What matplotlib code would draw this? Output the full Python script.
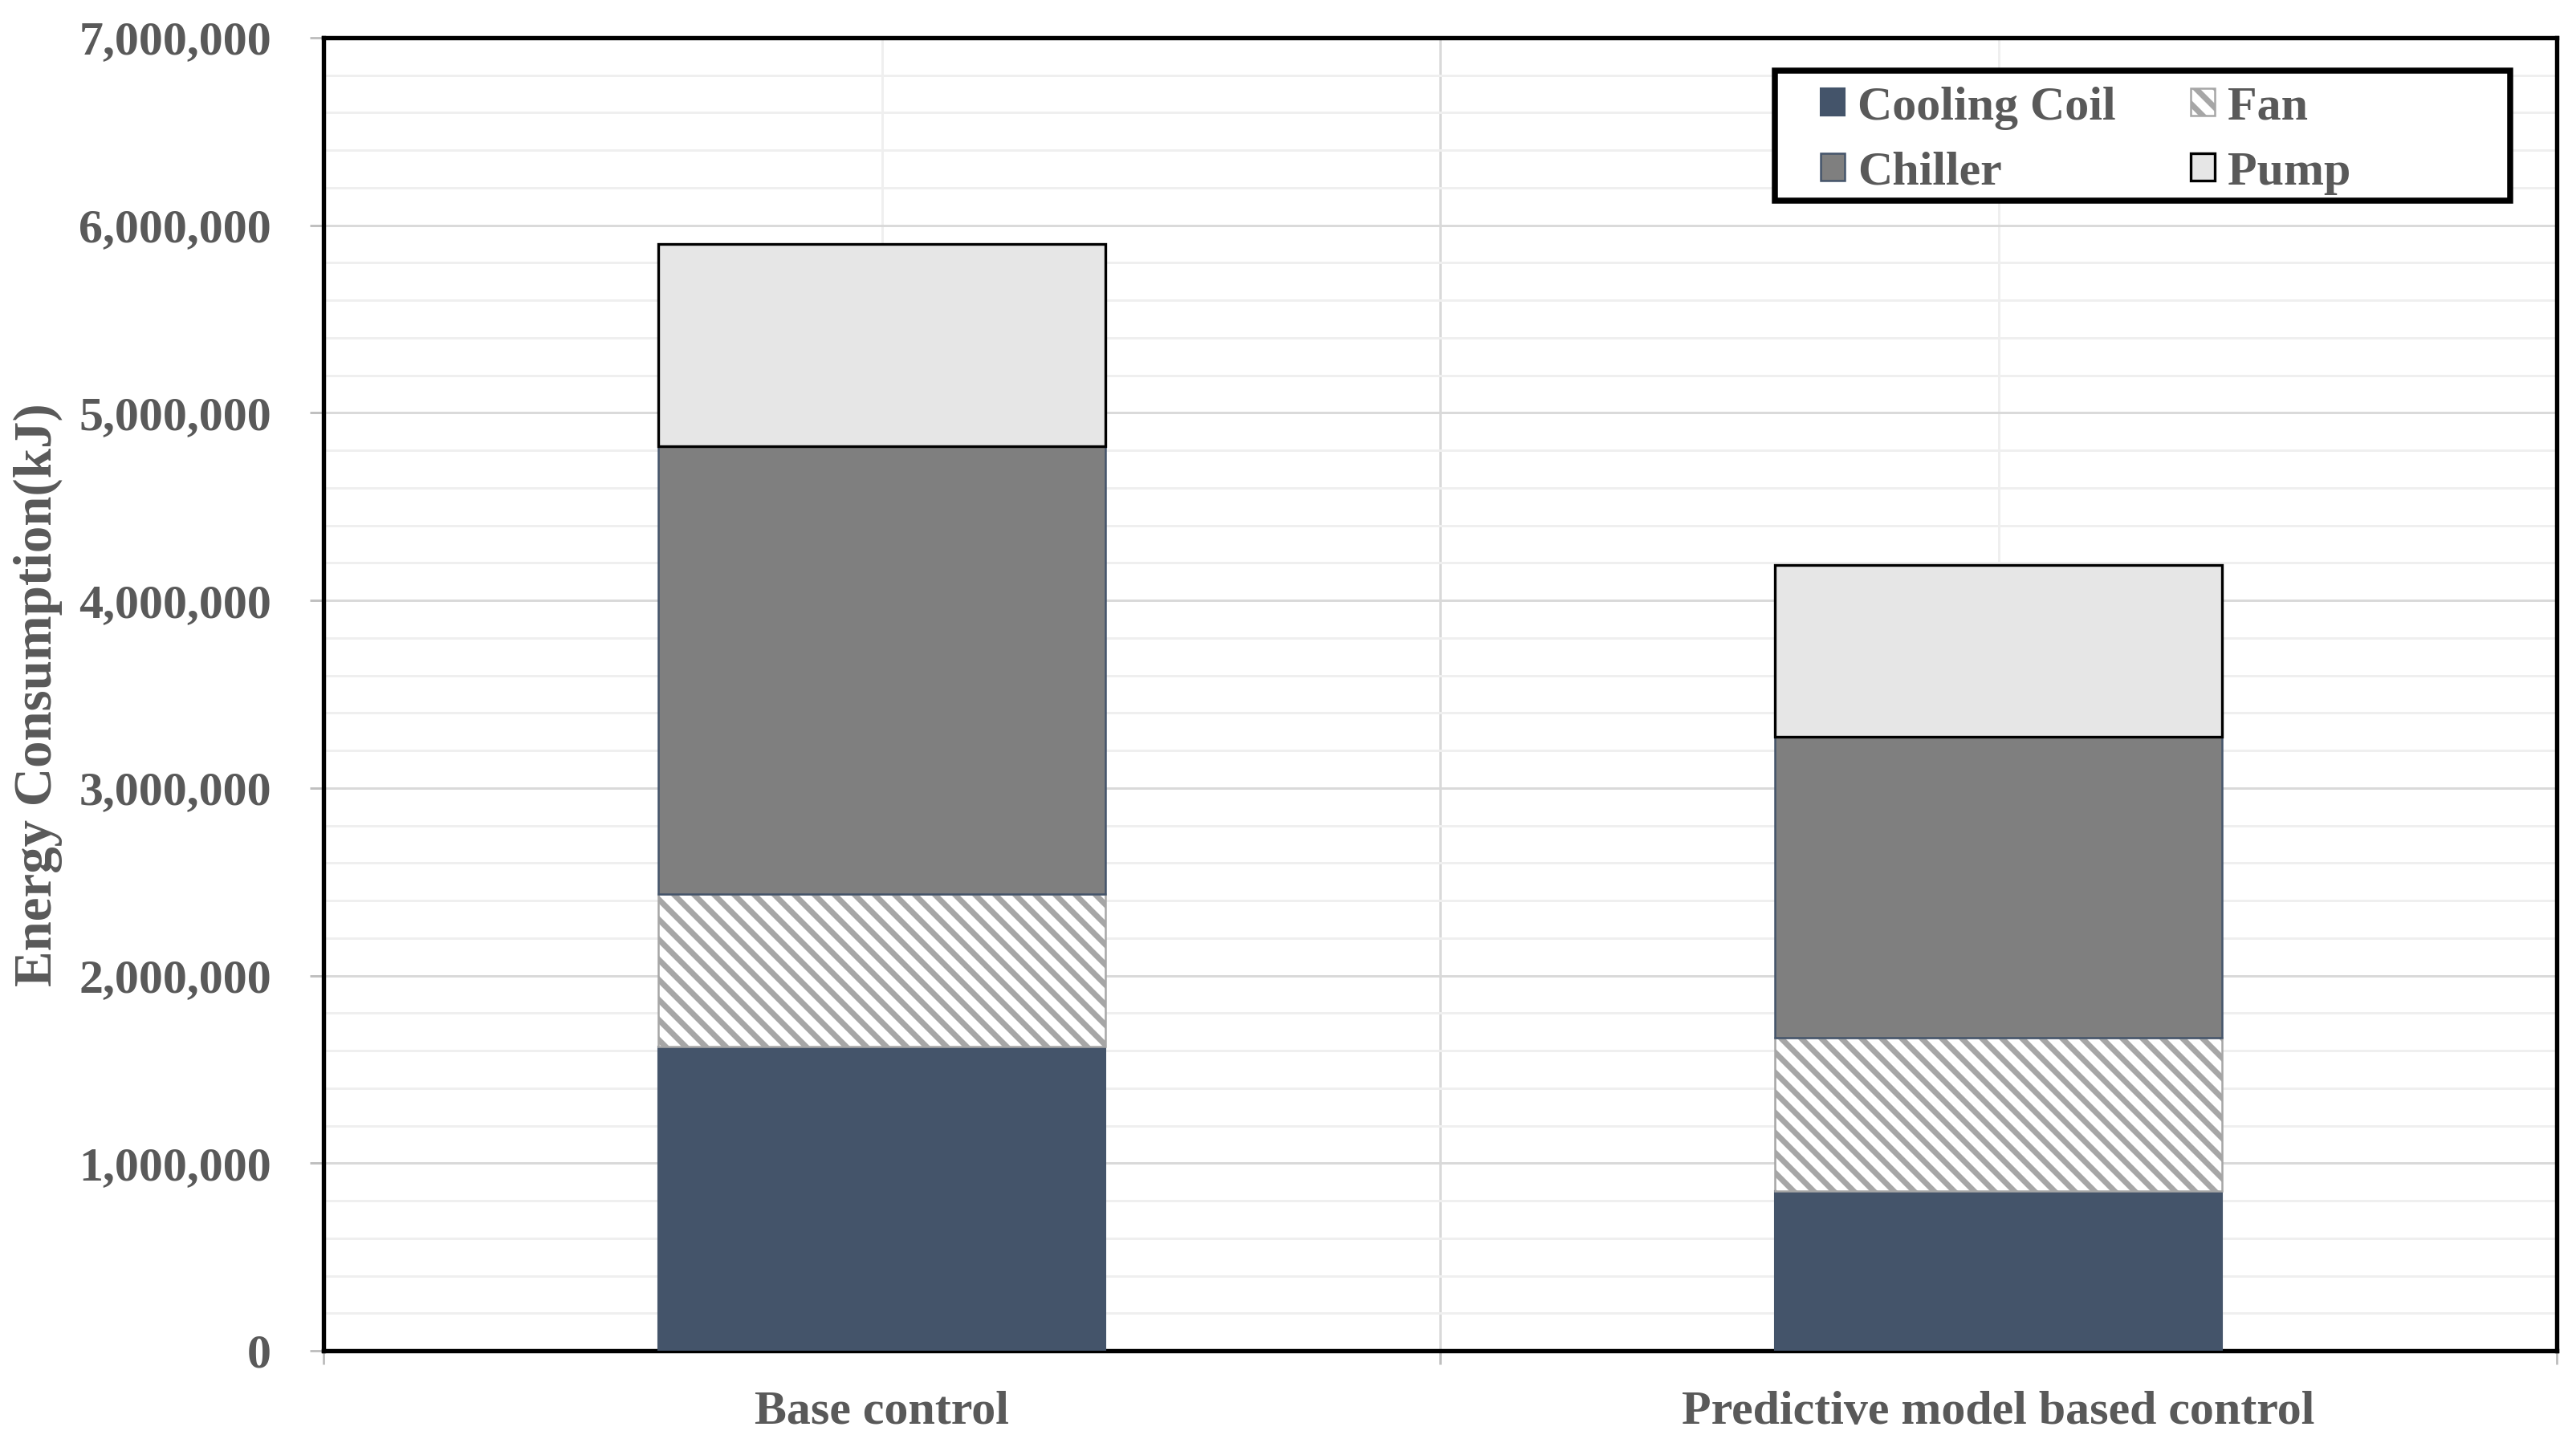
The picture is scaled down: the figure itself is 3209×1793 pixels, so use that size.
import matplotlib
matplotlib.use("Agg")
import matplotlib.pyplot as plt
from matplotlib.patches import Rectangle
from matplotlib.ticker import FuncFormatter, MultipleLocator

categories = ["Base control", "Predictive model based control"]
series_names = ["Cooling Coil", "Fan", "Chiller", "Pump"]
cooling_coil = [1620000, 850000]
fan = [815000, 820000]
chiller = [2385000, 1605000]
pump = [1080000, 915000]
y_ticks = [0, 1000000, 2000000, 3000000, 4000000, 5000000, 6000000, 7000000]

plt.rcParams['font.family'] = ['Liberation Serif', 'DejaVu Serif']
plt.rcParams['font.weight'] = 'bold'
plt.rcParams['hatch.linewidth'] = 1.7

DPI = 300
fig = plt.figure(figsize=(3209 / DPI, 1793 / DPI), dpi=DPI)
ax = fig.add_axes([403 / 3209, 1 - 1683 / 1793, (3185 - 403) / 3209, (1683 - 47) / 1793])

txt = '#595959'
x = list(range(len(categories)))
w = 0.4

b1 = ax.bar(x, cooling_coil, w, color='#44546A', edgecolor='#44546A', linewidth=0.5, label='Cooling Coil', zorder=3)
bottom2 = [a for a in cooling_coil]
b2 = ax.bar(x, fan, w, bottom=bottom2, color='white', edgecolor='#A6A6A6', hatch='\\\\\\\\', linewidth=0.6, label='Fan', zorder=3)
bottom3 = [a + b for a, b in zip(cooling_coil, fan)]
b3 = ax.bar(x, chiller, w, bottom=bottom3, color='#7F7F7F', edgecolor='#44546A', linewidth=0.6, label='Chiller', zorder=3)
bottom4 = [a + b + c for a, b, c in zip(cooling_coil, fan, chiller)]
b4 = ax.bar(x, pump, w, bottom=bottom4, color='#E6E6E6', edgecolor='black', linewidth=0.8, label='Pump', zorder=3)

ax.set_xlim(-0.5, 1.5)
ax.set_ylim(0, 7000000)
ax.set_yticks(y_ticks)
ax.yaxis.set_major_formatter(FuncFormatter(lambda v, p: f"{v:,.0f}"))
ax.yaxis.set_minor_locator(MultipleLocator(200000))

ax.set_xticks([-0.5, 0.5, 1.5])
ax.set_xticklabels(['', '', ''])
ax.set_xticks(x, labels=categories, minor=True)

ax.tick_params(axis='y', which='major', length=4.1, width=0.7, color='#BFBFBF', pad=11.5,
               labelsize=14.4, labelcolor=txt)
ax.tick_params(axis='y', which='minor', length=0)
ax.tick_params(axis='x', which='major', length=4.1, width=0.7, color='#BFBFBF')
ax.tick_params(axis='x', which='minor', length=0, pad=12, labelsize=14.4, labelcolor=txt)
for lab in ax.get_xticklabels(minor=True) + ax.get_yticklabels():
    lab.set_fontweight('bold')

ax.set_axisbelow(True)
ax.grid(which='major', color='#D9D9D9', linewidth=0.7)
ax.grid(which='minor', color='#EFEFEF', linewidth=0.7)

for s in ax.spines.values():
    s.set_color('black')
    s.set_linewidth(1.3)

fig.text(47 / 3209, 1 - 866 / 1793, 'Energy Consumption(kJ)', rotation=90, ha='center', va='center',
         fontsize=16.1, fontweight='bold', color=txt)

handles = [b1, b3, b2, b4]
labels = ['Cooling Coil', 'Chiller', 'Fan', 'Pump']
leg = ax.legend(handles, labels, ncol=2, loc='upper left', bbox_to_anchor=(0.6704, 0.963),
                frameon=False, borderpad=0, borderaxespad=0,
                handlelength=0.5, handleheight=0.5, handletextpad=0.27,
                columnspacing=1.55, labelspacing=0.45, labelcolor=txt,
                prop={'weight': 'bold', 'size': 14.4})
leg.set_zorder(6)
ax.add_patch(Rectangle((0.650, 0.876), 0.979 - 0.650, 0.975 - 0.876, transform=ax.transAxes,
                       facecolor='white', edgecolor='black', linewidth=1.8, zorder=5))

fig.savefig('out.png', dpi=DPI)
